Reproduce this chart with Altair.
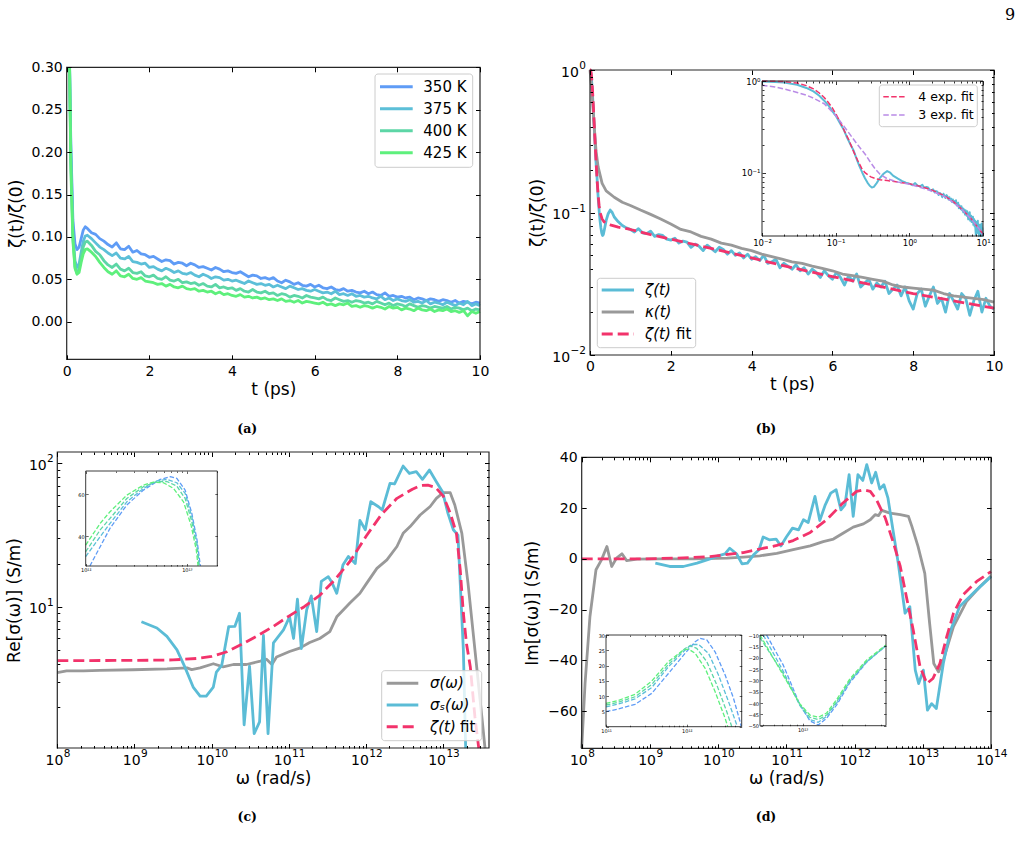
import altair as alt
import pandas as pd

W, H = 1021, 853
FONT = "DejaVu Sans"
SERIF = "DejaVu Serif"

C_BLUE, C_CYAN, C_TEAL, C_GREEN = "#5f9cf6", "#5cbfd8", "#5dd6a6", "#5ef07c"
C_ZETA, C_GRAY, C_PINK, C_LAV = "#5bbcd6", "#999999", "#f2336b", "#b98be6"

# ---------------- panel (a) ----------------
temps_a = ["350 K", "375 K", "400 K", "425 K"]
t_a = [0.07, 0.1, 0.15, 0.2, 0.25, 0.3, 0.35, 0.4, 0.45] + [round(0.5 + 0.1 * i, 1) for i in range(96)]
z350 = [0.30, 0.21, 0.12, 0.092, 0.085, 0.088, 0.098, 0.108, 0.112,
        0.110, 0.105, 0.103, 0.098, 0.095, 0.091,
        0.088, 0.093, 0.086, 0.085, 0.089, 0.082, 0.084, 0.080, 0.079, 0.076,
        0.077, 0.074, 0.071, 0.073, 0.072, 0.068, 0.070, 0.069, 0.066, 0.069,
        0.067, 0.064, 0.065, 0.063, 0.061, 0.064, 0.062, 0.059, 0.060, 0.058,
        0.057, 0.059, 0.056, 0.053, 0.055, 0.054, 0.051, 0.052, 0.050, 0.052,
        0.048, 0.046, 0.049, 0.047, 0.044, 0.046, 0.043, 0.042, 0.044, 0.041,
        0.043, 0.040, 0.039, 0.041, 0.038, 0.037, 0.039, 0.036, 0.037, 0.035,
        0.034, 0.036, 0.033, 0.035, 0.032, 0.031, 0.034, 0.030, 0.031, 0.029,
        0.030, 0.028, 0.029, 0.026, 0.028, 0.027, 0.025, 0.027, 0.026, 0.024,
        0.026, 0.025, 0.023, 0.025, 0.022, 0.024, 0.023, 0.021, 0.023, 0.022]
z375 = [0.30, 0.20, 0.105, 0.072, 0.064, 0.068, 0.082, 0.095, 0.101,
        0.102, 0.098, 0.093, 0.088, 0.085, 0.081,
        0.078, 0.081, 0.075, 0.074, 0.077, 0.071, 0.070, 0.068, 0.069, 0.064,
        0.065, 0.062, 0.060, 0.063, 0.061, 0.058, 0.060, 0.057, 0.056, 0.058,
        0.055, 0.053, 0.056, 0.054, 0.051, 0.053, 0.052, 0.049, 0.050, 0.048,
        0.049, 0.047, 0.045, 0.048, 0.046, 0.044, 0.045, 0.043, 0.044, 0.041,
        0.043, 0.041, 0.039, 0.042, 0.040, 0.038, 0.039, 0.037, 0.036, 0.038,
        0.036, 0.034, 0.035, 0.033, 0.036, 0.032, 0.033, 0.031, 0.033, 0.030,
        0.031, 0.029, 0.030, 0.028, 0.027, 0.030, 0.026, 0.028, 0.025, 0.027,
        0.025, 0.024, 0.026, 0.023, 0.024, 0.022, 0.025, 0.021, 0.023, 0.022,
        0.020, 0.023, 0.021, 0.019, 0.022, 0.020, 0.024, 0.019, 0.021, 0.019]
z400 = [0.30, 0.19, 0.10, 0.065, 0.057, 0.062, 0.076, 0.088, 0.094,
        0.095, 0.090, 0.083, 0.079, 0.072, 0.067,
        0.064, 0.068, 0.062, 0.060, 0.063, 0.058, 0.057, 0.059, 0.054, 0.053,
        0.055, 0.051, 0.050, 0.053, 0.049, 0.048, 0.050, 0.046, 0.047, 0.045,
        0.046, 0.043, 0.045, 0.042, 0.041, 0.044, 0.040, 0.041, 0.039, 0.040,
        0.037, 0.039, 0.036, 0.035, 0.038, 0.035, 0.034, 0.036, 0.033, 0.034,
        0.031, 0.033, 0.032, 0.029, 0.031, 0.030, 0.028, 0.031, 0.029, 0.028,
        0.027, 0.029, 0.026, 0.025, 0.028, 0.026, 0.024, 0.025, 0.023, 0.025,
        0.024, 0.022, 0.023, 0.021, 0.024, 0.022, 0.020, 0.022, 0.019, 0.021,
        0.020, 0.018, 0.021, 0.019, 0.017, 0.019, 0.018, 0.016, 0.018, 0.017,
        0.016, 0.018, 0.015, 0.017, 0.016, 0.014, 0.016, 0.013, 0.015, 0.014]
z425 = [0.30, 0.18, 0.095, 0.063, 0.056, 0.058, 0.070, 0.080, 0.085,
        0.086, 0.082, 0.077, 0.070, 0.064, 0.059,
        0.056, 0.060, 0.054, 0.053, 0.056, 0.051, 0.050, 0.052, 0.048, 0.047,
        0.046, 0.044, 0.045, 0.042, 0.044, 0.041, 0.040, 0.042, 0.039, 0.038,
        0.039, 0.036, 0.037, 0.035, 0.036, 0.033, 0.035, 0.032, 0.033, 0.031,
        0.030, 0.032, 0.029, 0.030, 0.028, 0.029, 0.027, 0.028, 0.026, 0.027,
        0.025, 0.027, 0.024, 0.025, 0.023, 0.025, 0.022, 0.024, 0.023, 0.022,
        0.021, 0.023, 0.020, 0.021, 0.019, 0.021, 0.020, 0.022, 0.018, 0.019,
        0.017, 0.019, 0.018, 0.016, 0.018, 0.017, 0.015, 0.018, 0.016, 0.017,
        0.014, 0.016, 0.015, 0.013, 0.016, 0.014, 0.013, 0.015, 0.012, 0.014,
        0.013, 0.015, 0.012, 0.013, 0.011, 0.013, 0.007, 0.012, 0.010, 0.012]

# ---------------- panel (b) ----------------
t_zeta = [0, 0.01, 0.015, 0.02, 0.03, 0.04, 0.05, 0.06, 0.07, 0.08, 0.09, 0.1,
          0.115, 0.13, 0.14, 0.16, 0.175, 0.19, 0.21, 0.23, 0.25, 0.27, 0.29, 0.31,
          0.33, 0.36, 0.4, 0.45, 0.5, 0.55, 0.6, 0.7, 0.8, 0.9] + [round(1.0 + 0.1 * i, 1) for i in range(91)]
zeta = [1.0, 0.99, 0.975, 0.96, 0.91, 0.84, 0.77, 0.69, 0.61, 0.54, 0.47, 0.42,
        0.345, 0.29, 0.25, 0.2, 0.175, 0.145, 0.118, 0.1, 0.087, 0.078, 0.072, 0.069,
        0.07, 0.077, 0.088, 0.098, 0.104, 0.1, 0.093, 0.086, 0.081, 0.078,
        0.076,
        0.073, 0.077, 0.072, 0.071, 0.074, 0.068, 0.070, 0.069, 0.065, 0.064,
        0.066, 0.061, 0.063, 0.062, 0.057, 0.060, 0.058, 0.054, 0.059, 0.056,
        0.053, 0.057, 0.055, 0.051, 0.054, 0.050, 0.052, 0.048, 0.051, 0.047,
        0.049, 0.046, 0.050, 0.044, 0.045, 0.047, 0.041, 0.044, 0.042, 0.040,
        0.043, 0.039, 0.041, 0.037, 0.040, 0.038, 0.035, 0.039, 0.036, 0.034,
        0.038, 0.035, 0.031, 0.036, 0.033, 0.037, 0.030, 0.032, 0.034, 0.029,
        0.032, 0.030, 0.033, 0.027, 0.029, 0.031, 0.026, 0.030, 0.024, 0.021,
        0.027, 0.029, 0.022, 0.026, 0.030, 0.023, 0.025, 0.020, 0.027, 0.024,
        0.021, 0.027, 0.025, 0.019, 0.024, 0.028, 0.020, 0.025, 0.022, 0.021]
t_kappa = [0, 0.05, 0.1, 0.15, 0.2, 0.3, 0.4, 0.6, 0.8, 1.0] + [1.25 + 0.25 * i for i in range(36)]
kappa = [1.0, 0.7, 0.42, 0.27, 0.21, 0.16, 0.142, 0.128, 0.118, 0.112,
         0.104, 0.097, 0.09, 0.083, 0.076, 0.073, 0.068, 0.065, 0.061, 0.059,
         0.056, 0.054, 0.051, 0.049, 0.047, 0.045, 0.044, 0.042, 0.0405, 0.039,
         0.037, 0.036, 0.035, 0.034, 0.033, 0.031, 0.030, 0.0295, 0.029, 0.0285,
         0.027, 0.026, 0.0255, 0.025, 0.0245, 0.0235]
t_fit4 = [0, 0.01, 0.02, 0.03, 0.04, 0.05, 0.06, 0.07, 0.08, 0.09, 0.1,
          0.115, 0.13, 0.15, 0.175, 0.2, 0.225, 0.25, 0.3, 0.35, 0.4, 0.5, 0.7, 1.0,
          1.5, 2, 3, 4, 5, 6, 7, 8, 9, 10]
fit4 = [1.0, 1.0, 0.985, 0.95, 0.89, 0.82, 0.74, 0.66, 0.58, 0.51, 0.44,
        0.36, 0.29, 0.23, 0.17, 0.135, 0.112, 0.1, 0.09, 0.086, 0.084, 0.082, 0.079, 0.076,
        0.070, 0.065, 0.056, 0.048, 0.041, 0.0355, 0.031, 0.027, 0.024, 0.0213]
t_fit3 = [0.01, 0.015, 0.02, 0.03, 0.04, 0.05, 0.07, 0.1, 0.13, 0.16, 0.2, 0.25, 0.3, 0.35,
          0.4, 0.5, 0.7, 1.0, 1.5, 2, 3, 4, 5, 6, 7, 8, 9, 10]
fit3 = [0.9, 0.86, 0.82, 0.75, 0.7, 0.65, 0.565, 0.42, 0.32, 0.255, 0.2, 0.16, 0.128, 0.108,
        0.096, 0.086, 0.079, 0.075, 0.068, 0.063, 0.055, 0.047, 0.041, 0.035, 0.031, 0.027, 0.024, 0.021]

# ---------------- panel (c) ----------------
w_c_gray = [1.0e8, 1.32e8, 2.19e8, 3.55e8, 9.55e8, 2.63e9, 4.79e9, 5.50e9, 7.08e9, 1.05e10,
            1.41e10, 1.91e10, 2.82e10, 4.27e10, 5.13e10, 6.03e10, 6.92e10, 1.02e11, 1.38e11, 1.86e11,
            2.51e11, 3.39e11, 4.17e11, 6.17e11, 8.32e11, 1.02e12, 1.38e12, 1.86e12, 2.51e12, 3.02e12,
            3.72e12, 5.01e12, 6.76e12, 8.13e12, 1.0e13, 1.23e13, 1.41e13, 1.74e13, 2.09e13, 2.57e13,
            3.16e13, 3.47e13]
re_gray = [3.47, 3.57, 3.57, 3.6, 3.63, 3.68, 3.74, 3.64, 3.74, 4.0,
           3.8, 3.95, 3.95, 4.17, 4.3, 3.95, 4.45, 4.87, 5.14, 5.62,
           6.0, 6.7, 8.5, 10.6, 12.4, 14.6, 18.5, 21.2, 26.3, 32.5,
           36.2, 43.6, 50, 57, 62.4, 62.4, 51.2, 32.5, 14.6, 5.0,
           1.7, 1.03]
w_c_cyan = [1.23e9, 1.95e9, 2.63e9, 3.55e9, 4.47e9, 5.75e9, 7.08e9, 8.51e9, 1.05e10, 1.15e10,
            1.35e10, 1.66e10, 2.0e10, 2.29e10, 2.63e10, 3.09e10, 3.55e10, 4.17e10, 4.68e10, 5.37e10,
            6.31e10, 8.51e10, 1.02e11, 1.15e11, 1.29e11, 1.45e11, 1.70e11, 1.95e11, 2.29e11, 2.63e11,
            3.24e11, 3.55e11, 4.17e11, 5.01e11, 5.89e11, 7.24e11, 8.32e11, 9.77e11, 1.15e12, 1.45e12,
            1.62e12, 2.04e12, 2.34e12, 3.02e12, 3.63e12, 4.47e12, 5.37e12, 6.61e12, 8.13e12, 9.77e12,
            1.15e13, 1.35e13, 1.55e13, 1.82e13, 1.95e13]
re_cyan = [7.85, 7.1, 6.2, 5.0, 3.82, 2.75, 2.38, 2.38, 2.75, 3.5,
           3.9, 7.25, 7.3, 9.0, 1.5, 3.85, 1.3, 1.57, 6.3, 1.3,
           5.6, 6.9, 8.5, 6.0, 11.3, 5.1, 9.5, 11.9, 6.7, 15,
           16.2, 15, 12.4, 19.5, 22.4, 20, 40, 34.4, 54, 49.8,
           47.3, 72.5, 71.8, 95.8, 85, 87.5, 77.3, 89.8, 74.5, 63.4,
           44.8, 34.4, 31.6, 5.0, 1.03]
w_c_fit = [1e8, 1e9, 3.16e9, 6.31e9, 1e10, 1.58e10, 2.51e10, 3.98e10, 6.31e10, 1e11,
           1.58e11, 2.51e11, 3.98e11, 6.31e11, 1e12, 1.58e12, 2.51e12, 3.98e12, 5.01e12, 6.31e12,
           7.94e12, 1e13, 1.23e13, 1.48e13, 1.66e13, 1.82e13, 2.0e13, 2.24e13, 2.57e13, 2.88e13]
re_fit = [4.2, 4.22, 4.25, 4.35, 4.5, 4.85, 5.5, 6.3, 7.3, 8.6,
          10.0, 12.0, 15.5, 21, 31, 44, 57, 66, 70, 70.5,
          68, 59, 45, 32.5, 18, 9, 5.5, 3.8, 1.7, 1.03]
ci_w_350 = [1.10e12, 1.39e12, 1.74e12, 2.55e12, 3.72e12, 5.45e12, 6.84e12, 7.96e12, 9.62e12, 1.12e13, 1.26e13, 1.36e13]
ci_350 = [25.7, 34.9, 43.7, 54.8, 61.9, 67.0, 68.3, 67.5, 61.9, 50.8, 38.1, 25.7]
ci_w_375 = [1.0e12, 1.39e12, 1.74e12, 2.55e12, 3.72e12, 5.05e12, 6.34e12, 7.96e12, 9.62e12, 1.12e13, 1.26e13, 1.33e13]
ci_375 = [30.2, 39.7, 46.0, 56.3, 62.7, 66.3, 67.0, 65.4, 60.3, 49.2, 36.5, 25.7]
ci_w_400 = [1.0e12, 1.39e12, 1.74e12, 2.55e12, 3.72e12, 5.05e12, 6.34e12, 7.96e12, 9.62e12, 1.12e13, 1.26e13, 1.32e13]
ci_400 = [32.5, 42.9, 48.4, 57.9, 63.5, 66.0, 66.0, 63.8, 57.9, 46.8, 34.1, 25.7]
ci_w_425 = [1.0e12, 1.39e12, 1.74e12, 2.55e12, 3.72e12, 4.68e12, 5.87e12, 7.38e12, 9.27e12, 1.10e13, 1.24e13, 1.29e13]
ci_425 = [35.7, 46.0, 51.6, 59.5, 64.3, 65.7, 65.4, 62.7, 56.3, 45.2, 33.3, 25.7]

# ---------------- panel (d) ----------------
w_d_gray = [1.0e8, 1.12e8, 1.32e8, 1.62e8, 1.95e8, 2.34e8, 2.75e8, 3.24e8, 3.89e8, 4.57e8,
            6.46e8, 1.41e9, 4.37e9, 1.35e10, 2.34e10, 4.07e10, 7.24e10, 1.26e11, 2.24e11, 3.47e11,
            4.90e11, 6.76e11, 9.55e11, 1.35e12, 1.70e12, 2.0e12, 2.24e12, 2.51e12, 3.31e12, 4.68e12,
            6.17e12, 6.92e12, 8.51e12, 1.07e13, 1.26e13, 1.45e13, 1.70e13, 2.0e13, 2.82e13, 4.37e13,
            6.92e13, 1.0e14]
im_gray = [-74.6, -49.1, -22.8, -4.3, -0.4, 4.9, -3.0, 0.3, 2.0, -0.7,
           -0.1, 0, 0, 0.3, 0.7, 1.2, 2.2, 3.6, 5.1, 6.8,
           7.8, 10.1, 12.5, 13.8, 15.4, 17.4, 17.0, 19.1, 18.0, 17.4,
           16.7, 12.8, 4.9, -5.7, -25.4, -41.2, -44.5, -39.9, -26.7, -16.8,
           -10.9, -6.7]
w_d_cyan = [1.20e9, 1.95e9, 3.09e9, 4.90e9, 7.59e9, 1.0e10, 1.26e10, 1.48e10, 1.86e10, 2.24e10,
            2.69e10, 3.31e10, 3.98e10, 4.57e10, 5.62e10, 7.08e10, 8.32e10, 1.0e11, 1.23e11, 1.51e11,
            1.78e11, 2.09e11, 2.63e11, 3.09e11, 3.72e11, 4.47e11, 5.37e11, 6.31e11, 7.24e11, 8.32e11,
            9.55e11, 1.12e12, 1.32e12, 1.51e12, 1.78e12, 2.04e12, 2.34e12, 2.69e12, 3.09e12, 3.72e12,
            4.37e12, 5.50e12, 6.46e12, 7.76e12, 8.71e12, 1.02e13, 1.17e13, 1.35e13, 1.58e13, 2.0e13,
            2.51e13, 3.47e13, 6.17e13, 1e14]
im_cyan = [-1.7, -3.0, -3.0, -1.7, 0, 1.2, 2.0, 4.2, 2.0, -2.0,
           -1.7, 1.6, 3.6, 8.6, 7.5, 7.8, 5.1, 8.6, 12.1, 11.4,
           15.4, 14.3, 24.6, 15.1, 21.3, 25.9, 27.2, 19.3, 21.3, 33.2,
           16.7, 33.2, 30.9, 37.1, 29.9, 34.1, 27.5, 29.2, 23.9, 10.1,
           -1.7, -21.4, -18.8, -43.8, -49.1, -43.8, -59.6, -57.0, -58.9, -41.2,
           -28.7, -18.8, -12.2, -7.0]
w_d_fit = [1e8, 7.94e8, 2.45e9, 7.59e9, 2.34e10, 7.24e10, 1.26e11, 2.24e11, 3.89e11, 6.76e11,
           1.07e12, 1.35e12, 1.70e12, 2.09e12, 2.82e12, 3.72e12, 4.68e12, 5.75e12, 7.24e12, 9.12e12,
           1.15e13, 1.41e13, 1.78e13, 2.24e13, 2.82e13, 3.89e13, 6.17e13, 1e14]
im_fit = [0, 0, 0.3, 0.9, 2.5, 5.3, 7.2, 10.4, 15.4, 22.0,
          26.6, 27.2, 26.6, 23.3, 16.1, 6.2, -3.0, -14.9, -28.0, -42.5,
          -49.1, -47.1, -41.2, -30.7, -21.4, -14.2, -8.9, -5.0]
di1_w_350 = [1e11, 1.42e11, 2.29e11, 3.68e11, 5.93e11, 9.53e11, 1.27e12, 1.46e12, 1.77e12, 2.24e12, 2.99e12, 3.79e12, 4.58e12, 4.72e12]
di1_350 = [4.9, 5.8, 7.3, 10.9, 17.4, 24.0, 27.8, 28.9, 28.4, 24.5, 16.9, 9.3, 1.6, 0]
di1_w_375 = [1e11, 1.42e11, 2.29e11, 3.68e11, 5.93e11, 9.53e11, 1.15e12, 1.40e12, 1.86e12, 2.47e12, 3.29e12, 4.17e12, 4.22e12]
di1_375 = [6.5, 7.4, 9.1, 12.8, 19.6, 25.1, 26.9, 26.9, 24.0, 16.9, 8.2, 0.5, 0]
di1_w_400 = [1e11, 1.42e11, 2.29e11, 3.68e11, 5.93e11, 9.53e11, 1.10e12, 1.33e12, 1.77e12, 2.36e12, 3.13e12, 3.61e12]
di1_400 = [7.1, 8.0, 9.8, 13.8, 20.4, 25.6, 26.5, 25.6, 21.3, 13.6, 4.9, 0]
di1_w_425 = [1e11, 1.42e11, 2.29e11, 3.68e11, 5.93e11, 9.10e11, 1.05e12, 1.27e12, 1.69e12, 2.24e12, 2.99e12, 3.22e12]
di1_425 = [7.6, 8.6, 10.6, 14.9, 21.3, 25.1, 25.4, 24.0, 19.1, 11.5, 2.7, 0]
di2_w_350 = [5.28e12, 7.10e12, 9.53e12, 1.14e13, 1.32e13, 1.53e13, 1.83e13, 2.31e13, 3.10e13, 4.38e13]
di2_350 = [-10, -23.3, -40.8, -47.9, -49.7, -46.7, -40.8, -31.0, -22.1, -14.7]
di2_w_375 = [4.98e12, 7.10e12, 9.53e12, 1.14e13, 1.32e13, 1.53e13, 1.83e13, 2.31e13, 3.10e13, 4.38e13]
di2_375 = [-10, -26.0, -41.1, -47.3, -48.5, -45.9, -39.9, -30.4, -21.9, -14.7]
di2_w_400 = [4.70e12, 7.10e12, 9.53e12, 1.14e13, 1.32e13, 1.53e13, 1.83e13, 2.31e13, 3.10e13, 4.38e13]
di2_400 = [-11.2, -27.0, -40.8, -46.3, -47.3, -45.3, -39.3, -30.0, -21.6, -14.6]
di2_w_425 = [4.70e12, 7.10e12, 9.53e12, 1.14e13, 1.32e13, 1.53e13, 1.83e13, 2.31e13, 3.10e13, 4.38e13]
di2_425 = [-10, -27.8, -40.4, -45.3, -46.3, -44.4, -38.4, -29.3, -21.1, -14.4]

# ---------------- layout (pixel boxes of every plot area) ----------------
A = dict(x0=66.7, x1=480.0, y0=67.3, y1=359.3, xt="linear", xd=(0, 10), yt="linear", yd=(-0.0443, 0.30))
B = dict(x0=590.0, x1=994.0, y0=70.0, y1=355.0, xt="linear", xd=(0, 10), yt="log", yd=(0.01, 1.0))
BI = dict(x0=762.0, x1=983.0, y0=81.0, y1=236.0, xt="log", xd=(0.01, 10), yt="log", yd=(0.0204, 1.0))
C = dict(x0=57.3, x1=489.0, y0=452.0, y1=748.0, xt="log", xd=(1e8, 3.91e13), yt="log", yd=(1.033, 120.0))
CI = dict(x0=85.7, x1=217.3, y0=471.0, y1=566.0, xt="log", xd=(1e12, 2.0e13), yt="linear", yd=(25.7, 71.0))
D = dict(x0=581.7, x1=991.0, y0=457.3, y1=748.3, xt="log", xd=(1e8, 1e14), yt="linear", yd=(-74.6, 40.0))
DI1 = dict(x0=606.0, x1=741.7, y0=635.0, y1=726.7, xt="log", xd=(1e11, 4.79e12), yt="linear", yd=(0, 30))
DI2 = dict(x0=760.0, x1=886.0, y0=635.0, y1=725.7, xt="log", xd=(4.70e12, 4.38e13), yt="linear", yd=(-50, -10))

SUP = str.maketrans("0123456789-", "⁰¹²³⁴⁵⁶⁷⁸⁹⁻")
MINUS = "replace(format(datum.value, 'd'), '-', '\u2212')"


def log_expr(exps):
    s = ""
    for e in exps[:-1]:
        s += f"datum.value < {10 ** (e + 0.5):.6g} ? '10{str(e).translate(SUP)}' : "
    return s + f"'10{str(exps[-1]).translate(SUP)}'"


def pow_expr(exps):
    s = ""
    for e in exps[:-1]:
        s += f"datum.value < {10 ** (e + 0.5):.6g} ? '{str(e).replace('-', chr(0x2212))}' : "
    return s + f"'{str(exps[-1]).replace('-', chr(0x2212))}'"


def exp_width(e, size):
    return sum(0.838 if c == "-" else 0.636 for c in str(e)) * size


def minors(e0, e1, lo, hi):
    return [k * 10.0 ** e for e in range(e0, e1 + 1) for k in range(2, 10) if lo <= k * 10.0 ** e <= hi]


def sc(kind, dom, rng, clamp=False):
    kw = dict(type=kind, domain=list(dom), range=list(rng), nice=False)
    if kind == "linear":
        kw["zero"] = False
    if clamp:
        kw["clamp"] = True
    return alt.Scale(**kw)


def xs(P):
    return sc(P["xt"], P["xd"], [P["x0"], P["x1"]])


def ys(P, clamp=False):
    return sc(P["yt"], P["yd"], [P["y1"], P["y0"]], clamp)


def off(orient, pos):
    return {"bottom": pos - H, "top": -pos, "left": -pos, "right": pos - W}[orient]


def tick_axis(orient, pos, values, size, width=1.0):
    return alt.Axis(orient=orient, offset=off(orient, pos), values=values, ticks=True, tickSize=size,
                    tickWidth=width, tickColor="black", labels=False, domain=False, grid=False,
                    title=None, zindex=1)


def lab_axis(orient, pos, values, size, pad, fmt=None, expr=None, title=None, tpad=4, tsize=17,
             align=None, loff=None):
    kw = dict(orient=orient, offset=off(orient, pos), values=values, ticks=False, tickSize=0,
              domain=False, grid=False, labels=True, labelFont=FONT, labelFontSize=size,
              labelColor="black", labelPadding=pad, labelFlush=False, labelOverlap=False, zindex=1)
    if fmt:
        kw["format"] = fmt
    if expr:
        kw["labelExpr"] = expr
    if align:
        kw["labelAlign"] = align
    if loff is not None:
        kw["labelOffset"] = loff
    if title:
        kw.update(title=title, titleFont=FONT, titleFontSize=tsize, titleFontWeight="normal",
                  titleColor="black", titlePadding=tpad)
    else:
        kw["title"] = None
    return alt.Axis(**kw)


def helper(P, xaxis, yaxis):
    df = pd.DataFrame({"x": list(P["xd"]), "y": list(P["yd"])})
    return alt.Chart(df).mark_point(opacity=0).encode(
        x=alt.X("x:Q", scale=xs(P), axis=xaxis),
        y=alt.Y("y:Q", scale=ys(P), axis=yaxis))


def log_labels(P, orient, exps, title=None, tpad=4, bsize=14, esize=10.5, pad=4.5):
    """Two-part '10' + superscript labels, like matplotlib's mathtext."""
    w10 = 2 * 0.636 * bsize
    groups = {}
    for e in exps:
        groups.setdefault(round(exp_width(e, esize), 2), []).append(e)
    widest = max(groups)
    out = []
    for wexp, es in groups.items():
        vals = [10.0 ** e for e in es]
        ttl = title if wexp == widest else None
        if orient == "bottom":
            shift = (w10 - wexp) / 2
            base = lab_axis("bottom", P["y1"], vals, bsize, pad, expr="'10'", title=ttl, tpad=tpad,
                            align="right", loff=shift)
            expo = lab_axis("bottom", P["y1"], vals, esize, 0, expr=pow_expr(es), align="left",
                            loff=shift + 0.4)
            out += [helper(P, base, None), helper(P, expo, None)]
        else:
            base = lab_axis("left", P["x0"], vals, bsize, pad + wexp + 0.4, expr="'10'", title=ttl,
                            tpad=tpad, align="right", loff=2)
            expo = lab_axis("left", P["x0"], vals, esize, pad, expr=pow_expr(es), align="right",
                            loff=-4.5)
            out += [helper(P, None, base), helper(P, None, expo)]
    return out


def tick_layers(P, xmaj, ymaj, xmin, ymin, big, small, width=1.0):
    out = [
        helper(P, tick_axis("top", P["y1"], xmaj, big, width), tick_axis("right", P["x0"], ymaj, big, width)),
        helper(P, tick_axis("bottom", P["y0"], xmaj, big, width), tick_axis("left", P["x1"], ymaj, big, width)),
    ]
    if xmin or ymin:
        out.append(helper(P,
                          tick_axis("top", P["y1"], xmin, small, width) if xmin else None,
                          tick_axis("right", P["x0"], ymin, small, width) if ymin else None))
        out.append(helper(P,
                          tick_axis("bottom", P["y0"], xmin, small, width) if xmin else None,
                          tick_axis("left", P["x1"], ymin, small, width) if ymin else None))
    return out


def rect(P, fill=None, stroke=None, sw=1.0):
    df = pd.DataFrame({"a": [P["xd"][0]], "b": [P["xd"][1]], "c": [P["yd"][0]], "d": [P["yd"][1]]})
    mk = dict(strokeWidth=sw)
    if fill:
        mk["fill"] = fill
    else:
        mk["fillOpacity"] = 0
    if stroke:
        mk["stroke"] = stroke
    else:
        mk["strokeWidth"] = 0
    return alt.Chart(df).mark_rect(**mk).encode(
        x=alt.X("a:Q", scale=xs(P), axis=None), x2="b:Q",
        y=alt.Y("c:Q", scale=ys(P), axis=None), y2="d:Q")


def series(P, xv, yv, color, width, dash=None, clamp=False):
    df = pd.DataFrame({"x": xv, "y": yv})
    mk = dict(color=color, strokeWidth=width, strokeJoin="round")
    if dash:
        mk["strokeDash"] = dash
    return alt.Chart(df).mark_line(**mk).encode(
        x=alt.X("x:Q", scale=xs(P), axis=None),
        y=alt.Y("y:Q", scale=ys(P, clamp), axis=None))


def legend(box, rows, lx0, lx1, tx, labels, colors, dashes, width, fsize, math=None, suffix=None):
    one = pd.DataFrame({"k": [0]})
    bg = alt.Chart(one).mark_rect(fill="white", fillOpacity=0.8, stroke="#cccccc", strokeWidth=1,
                                  cornerRadius=3).encode(
        x=alt.value(box[0]), x2=alt.value(box[1]), y=alt.value(box[2]), y2=alt.value(box[3]))
    ldf = pd.DataFrame({"lab": labels, "txt": math if math else labels})
    yscale = alt.Scale(type="point", domain=labels, range=[rows[0], rows[1]], padding=0)
    rules = alt.Chart(ldf).mark_rule(strokeWidth=width).encode(
        x=alt.value(lx0), x2=alt.value(lx1),
        y=alt.Y("lab:N", scale=yscale, axis=None),
        color=alt.Color("lab:N", scale=alt.Scale(domain=labels, range=colors), legend=None),
        strokeDash=alt.StrokeDash("lab:N", scale=alt.Scale(domain=labels, range=dashes), legend=None))
    texts = alt.Chart(ldf).mark_text(align="left", baseline="middle", font=FONT, fontSize=fsize,
                                     fontStyle="italic" if math else "normal",
                                     color="black").encode(
        x=alt.value(tx), y=alt.Y("lab:N", scale=yscale, axis=None), text="txt:N")
    out = [bg, rules, texts]
    if suffix:
        lab, word, dx = suffix
        sdf = pd.DataFrame({"lab": [lab], "txt": [word]})
        out.append(alt.Chart(sdf).mark_text(align="left", baseline="middle", font=FONT, fontSize=fsize,
                                            color="black").encode(
            x=alt.value(tx + dx), y=alt.Y("lab:N", scale=yscale, axis=None), text="txt:N"))
    return out


def note(txt, x, y, size, font, weight="normal"):
    return alt.Chart(pd.DataFrame({"t": [txt]})).mark_text(
        fontSize=size, font=font, fontWeight=weight, align="center", baseline="middle",
        color="black").encode(text="t:N", x=alt.value(x), y=alt.value(y))


layers = []
SOLID = [1, 0]
FRAME = "#262626"

# ---- (a)
for vals, col in zip([z350, z375, z400, z425], [C_BLUE, C_CYAN, C_TEAL, C_GREEN]):
    layers.append(series(A, t_a, vals, col, 2.8))
layers.append(rect(A, stroke=FRAME, sw=1.2))
layers += legend((375, 472.7, 74, 167.3), (86.7, 152.7), 380, 412.7, 423.3, temps_a,
                 [C_BLUE, C_CYAN, C_TEAL, C_GREEN], [SOLID] * 4, 3, 15)
a_xt = [0, 2, 4, 6, 8, 10]
a_yt = [0.0, 0.05, 0.10, 0.15, 0.20, 0.25, 0.30]
layers.append(helper(A, lab_axis("bottom", A["y1"], a_xt, 14, 5, fmt="d", title="t (ps)", tpad=3),
                     lab_axis("left", A["x0"], a_yt, 14, 4.5, fmt=".2f", title="ζ(t)/ζ(0)", tpad=6)))
layers += tick_layers(A, a_xt, a_yt, [], [], 4.5, 2.5)

# ---- (b)
layers.append(series(B, t_zeta, zeta, C_ZETA, 2.8))
layers.append(series(B, t_kappa, kappa, C_GRAY, 2.8))
layers.append(series(B, t_fit4, fit4, C_PINK, 2.8, dash=[11, 5]))
layers.append(rect(B, stroke=FRAME, sw=1.2))
leg_b = ["ζ(t)", "κ(t)", "ζ(t) fit"]
layers += legend((597.3, 695.7, 278.3, 347.7), (290, 334), 601.7, 634, 645,
                 leg_b, [C_ZETA, C_GRAY, C_PINK], [SOLID, SOLID, [11, 5]], 3, 15,
                 math=["ζ(t)", "κ(t)", "ζ(t)"], suffix=("ζ(t) fit", "fit", 31))
b_xt = [0, 2, 4, 6, 8, 10]
b_yt = [0.01, 0.1, 1.0]
layers.append(helper(B, lab_axis("bottom", B["y1"], b_xt, 14, 4.5, fmt="d", title="t (ps)", tpad=3), None))
layers += log_labels(B, "left", [-2, -1, 0], title="ζ(t)/ζ(0)", tpad=5)
layers += tick_layers(B, b_xt, b_yt, [], minors(-2, -1, 0.01, 1.0), 4.5, 2.5)
# inset of (b)
layers.append(rect(BI, fill="white"))
t_zi = [t for t in t_zeta if t >= 0.01]
z_zi = [z for t, z in zip(t_zeta, zeta) if t >= 0.01]
t_fi = [t for t in t_fit4 if t >= 0.01]
f_fi = [f for t, f in zip(t_fit4, fit4) if t >= 0.01]
layers.append(series(BI, t_zi, z_zi, C_ZETA, 2.0, clamp=True))
layers.append(series(BI, t_fi, f_fi, C_PINK, 1.5, dash=[5.5, 2.4], clamp=True))
layers.append(series(BI, t_fit3, fit3, C_LAV, 1.5, dash=[5.5, 2.4], clamp=True))
layers.append(rect(BI, stroke=FRAME, sw=1.0))
layers += legend((879.3, 977.3, 85, 126.7), (96.7, 115), 883.3, 906.7, 918.3,
                 ["4 exp. fit", "3 exp. fit"], [C_PINK, C_LAV], [[5.5, 2.4], [5.5, 2.4]], 1.5, 12.5)
bi_xt = [0.01, 0.1, 1.0, 10.0]
bi_yt = [0.1, 1.0]
layers.append(helper(BI, lab_axis("bottom", BI["y1"], bi_xt, 8.5, 2, expr=log_expr([-2, -1, 0, 1])),
                     lab_axis("left", BI["x0"], bi_yt, 8.5, 2, expr=log_expr([-1, 0]))))
layers += tick_layers(BI, bi_xt, bi_yt, minors(-2, 0, 0.01, 10), minors(-2, -1, 0.0204, 1.0), 3.5, 2, 0.8)

# ---- (c)
layers.append(series(C, w_c_gray, re_gray, C_GRAY, 2.8))
layers.append(series(C, w_c_cyan, re_cyan, C_ZETA, 2.8))
layers.append(series(C, w_c_fit, re_fit, C_PINK, 2.8, dash=[11, 5]))
layers.append(rect(C, stroke=FRAME, sw=1.2))
layers.append(rect(CI, fill="white"))
for wv, vals, col in zip([ci_w_350, ci_w_375, ci_w_400, ci_w_425], [ci_350, ci_375, ci_400, ci_425],
                         [C_BLUE, C_CYAN, C_TEAL, C_GREEN]):
    layers.append(series(CI, wv, vals, col, 1.3, dash=[4.5, 2]))
layers.append(rect(CI, stroke=FRAME, sw=0.9))
leg_c = ["σ(ω)", "σₛ(ω)", "ζ(t) fit"]
layers += legend((381.7, 481.7, 670.7, 740.7), (683.3, 726.7), 386.7, 418.3, 430,
                 leg_c, [C_GRAY, C_ZETA, C_PINK], [SOLID, SOLID, [11, 5]], 3, 15,
                 math=["σ(ω)", "σₛ(ω)", "ζ(t)"], suffix=("ζ(t) fit", "fit", 30))
c_xt = [1e8, 1e9, 1e10, 1e11, 1e12, 1e13]
c_yt = [10.0, 100.0]
layers += log_labels(C, "bottom", [8, 9, 10, 11, 12, 13], title="ω (rad/s)", tpad=3, pad=5.5)
layers += log_labels(C, "left", [1, 2], title="Re[σ(ω)] (S/m)", tpad=5, pad=4)
layers += tick_layers(C, c_xt, c_yt, minors(8, 13, 1e8, 3.91e13), minors(0, 1, 1.033, 120), 4.5, 2.5)
ci_xt = [1e12, 1e13]
ci_yt = [40.0, 60.0]
layers.append(helper(CI, lab_axis("bottom", CI["y1"], ci_xt, 5, 1.5, expr=log_expr([12, 13])),
                     lab_axis("left", CI["x0"], ci_yt, 5, 1.5, fmt="d")))
layers += tick_layers(CI, ci_xt, ci_yt, minors(12, 13, 1e12, 2.0e13), [], 2.5, 1.5, 0.6)

# ---- (d)
layers.append(series(D, w_d_gray, im_gray, C_GRAY, 2.8))
layers.append(series(D, w_d_cyan, im_cyan, C_ZETA, 2.8))
layers.append(series(D, w_d_fit, im_fit, C_PINK, 2.8, dash=[11, 5]))
layers.append(rect(D, stroke=FRAME, sw=1.2))
d_xt = [1e8, 1e9, 1e10, 1e11, 1e12, 1e13, 1e14]
d_yt = [-60, -40, -20, 0, 20, 40]
layers += log_labels(D, "bottom", [8, 9, 10, 11, 12, 13, 14], title="ω (rad/s)", tpad=3, pad=5.5)
layers.append(helper(D, None, lab_axis("left", D["x0"], d_yt, 14, 4.5, expr=MINUS,
                                       title="Im[σ(ω)] (S/m)", tpad=6)))
layers += tick_layers(D, d_xt, d_yt, minors(8, 13, 1e8, 1e14), [], 4.5, 2.5)
# insets of (d)
layers.append(rect(DI1, fill="white"))
for wv, vals, col in zip([di1_w_350, di1_w_375, di1_w_400, di1_w_425], [di1_350, di1_375, di1_400, di1_425],
                         [C_BLUE, C_CYAN, C_TEAL, C_GREEN]):
    layers.append(series(DI1, wv, vals, col, 1.3, dash=[4.5, 2]))
layers.append(rect(DI1, stroke=FRAME, sw=0.9))
layers.append(rect(DI2, fill="white"))
for wv, vals, col in zip([di2_w_350, di2_w_375, di2_w_400, di2_w_425], [di2_350, di2_375, di2_400, di2_425],
                         [C_BLUE, C_CYAN, C_TEAL, C_GREEN]):
    layers.append(series(DI2, wv, vals, col, 1.3, dash=[4.5, 2]))
layers.append(rect(DI2, stroke=FRAME, sw=0.9))
di1_xt = [1e11, 1e12]
di1_yt = [0, 5, 10, 15, 20, 25, 30]
layers.append(helper(DI1, lab_axis("bottom", DI1["y1"], di1_xt, 5, 1.5, expr=log_expr([11, 12])),
                     lab_axis("left", DI1["x0"], di1_yt[1:], 5, 1.5, fmt="d")))
layers += tick_layers(DI1, di1_xt, di1_yt, minors(11, 12, 1e11, 4.79e12), [], 2.5, 1.5, 0.6)
di2_xt = [1e13]
di2_yt = [-50, -45, -40, -35, -30, -25, -20, -15, -10]
layers.append(helper(DI2, lab_axis("bottom", DI2["y1"], di2_xt, 5, 1.5, expr=log_expr([13])),
                     lab_axis("left", DI2["x0"], di2_yt, 5, 1.5, expr=MINUS)))
layers += tick_layers(DI2, di2_xt, di2_yt, minors(12, 13, 4.70e12, 4.38e13), [], 2.5, 1.5, 0.6)

# ---- page annotations
layers.append(note("9", 1010, 14.5, 16, SERIF))
for txt, x, y in [("(a)", 247.3, 429), ("(b)", 766, 429), ("(c)", 247.3, 817.3), ("(d)", 766, 817.3)]:
    layers.append(note(txt, x, y, 12.5, SERIF, "bold"))

chart = alt.layer(*layers).resolve_scale(
    x="independent", y="independent", color="independent", strokeDash="independent"
).properties(
    width=W, height=H, padding=0, background="white",
    autosize=alt.AutoSizeParams(type="none"),
).configure_view(strokeWidth=0)

chart.save("out.html", embed_options={"renderer": "svg", "actions": False})
